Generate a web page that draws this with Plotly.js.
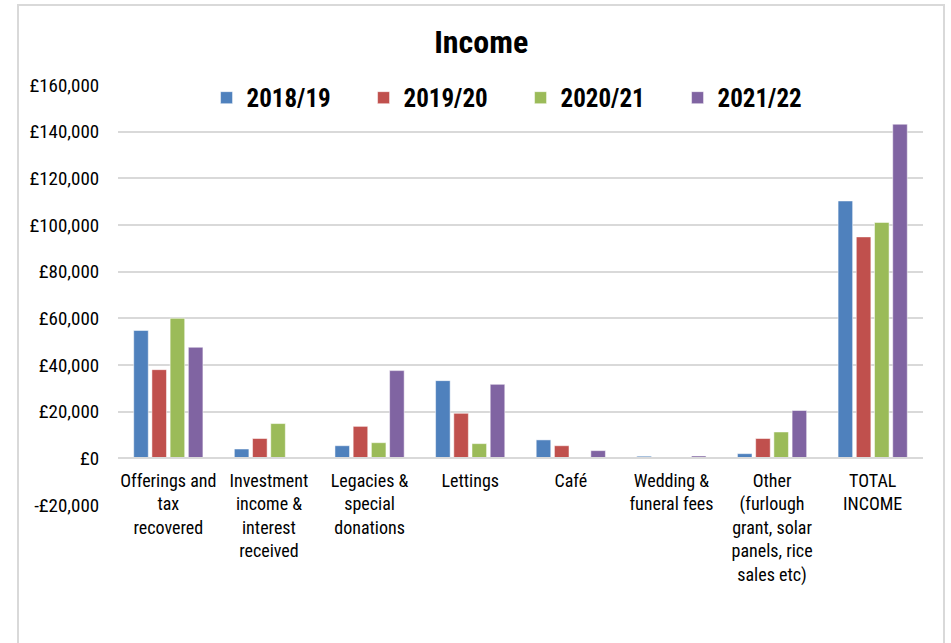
<!DOCTYPE html>
<html>
<head>
<meta charset="utf-8">
<script src="https://cdn.plot.ly/plotly-3.0.1.min.js"></script>
<style>
  html, body { margin: 0; padding: 0; background: #fff; }
  #wrap { position: relative; width: 951px; height: 643px; overflow: hidden; }
  #chart { width: 951px; height: 643px; }
  #frame { position: absolute; left: 17px; top: 4px; width: 928px; height: 700px;
           border: 2px solid #d9d9d9; pointer-events: none; box-sizing: border-box; }
</style>
</head>
<body>
<div id="wrap">
  <div id="chart"></div>
  <div id="frame"></div>
</div>
<script>
const categories = [
  "Offerings and<br>tax<br>recovered",
  "Investment<br>income &<br>interest<br>received",
  "Legacies &<br>special<br>donations",
  "Lettings",
  "Café",
  "Wedding &<br>funeral fees",
  "Other<br>(furlough<br>grant, solar<br>panels, rice<br>sales etc)",
  "TOTAL<br>INCOME"
];
const seriesNames = ["2018/19", "2019/20", "2020/21", "2021/22"];
const v2018 = [54800, 4000, 5400, 33300, 7900, 900, 2000, 110300];
const v2019 = [38000, 8500, 13700, 19300, 5400, 300, 8500, 94900];
const v2020 = [60000, 14900, 6700, 6300, 0, 300, 11300, 101100];
const v2021 = [47600, 0, 37600, 31700, 3300, 1000, 20500, 143200];
const colors = ["#4f81bd", "#c0504d", "#9bbb59", "#8064a2"];
const tickVals = [-20000, 0, 20000, 40000, 60000, 80000, 100000, 120000, 140000, 160000];
const tickText = ["-£20,000", "£0", "£20,000", "£40,000", "£60,000", "£80,000", "£100,000", "£120,000", "£140,000", "£160,000"];

const FONT = "'Liberation Sans Narrow', 'Arial Narrow', 'Roboto Condensed', Roboto, sans-serif";
const allVals = [v2018, v2019, v2020, v2021];

const traces = seriesNames.map((n, i) => ({
  type: "bar",
  name: n,
  x: categories,
  y: allVals[i],
  marker: { color: colors[i], line: { color: "rgba(255,255,255,0.5)", width: 1 } },
  hoverinfo: "x+y+name"
}));

const layout = {
  width: 951,
  height: 643,
  margin: { l: 118, r: 28, t: 85, b: 138, pad: 0 },
  paper_bgcolor: "#ffffff",
  plot_bgcolor: "#ffffff",
  font: { family: FONT, size: 19, color: "#000000" },
  title: {
    text: "<b>Income</b>",
    font: { family: FONT, size: 32, color: "#000000" },
    xref: "container", yref: "container",
    x: 0.506, y: 1 - 42 / 643, xanchor: "center", yanchor: "middle"
  },
  barmode: "group",
  bargap: 0.276,
  bargroupgap: 0.2,
  showlegend: true,
  legend: {
    orientation: "h",
    x: 0.110, xanchor: "left",
    y: 1.024, yanchor: "top",
    bgcolor: "rgba(0,0,0,0)",
    font: { family: FONT, size: 25, color: "#000000", weight: "bold" },
    entrywidth: 112,
    traceorder: "normal"
  },
  xaxis: {
    type: "category",
    anchor: "free",
    position: 20000 / 180000,
    showgrid: false,
    showline: true,
    linecolor: "#d9d9d9",
    linewidth: 2,
    ticks: "outside",
    ticklen: 6,
    tickcolor: "rgba(0,0,0,0)",
    tickangle: 0,
    tickfont: { family: FONT, size: 18, color: "#000000" },
    fixedrange: true
  },
  yaxis: {
    range: [-20000, 160000],
    tickvals: tickVals,
    ticktext: tickText,
    showgrid: true,
    gridcolor: "#d9d9d9",
    gridwidth: 2,
    zeroline: false,
    showline: false,
    ticks: "outside",
    ticklen: 14,
    tickcolor: "rgba(0,0,0,0)",
    tickfont: { family: FONT, size: 19, color: "#000000" },
    fixedrange: true
  }
};

Plotly.newPlot("chart", traces, layout, { displayModeBar: false, staticPlot: true });
</script>
</body>
</html>
